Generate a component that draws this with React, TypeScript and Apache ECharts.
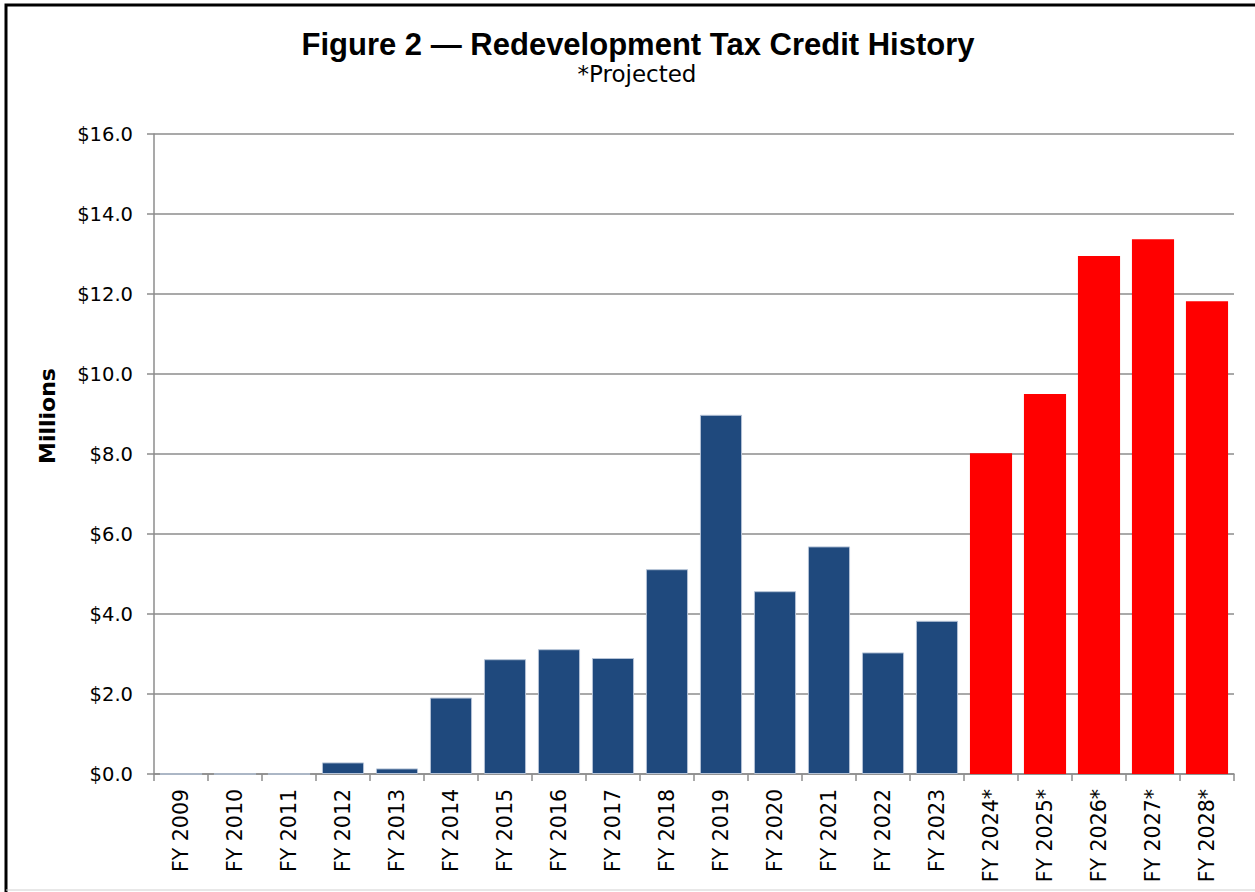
import React, { useEffect, useRef } from "react";
import * as echarts from "echarts";

const categories = [
  "FY 2009", "FY 2010", "FY 2011", "FY 2012", "FY 2013", "FY 2014", "FY 2015",
  "FY 2016", "FY 2017", "FY 2018", "FY 2019", "FY 2020", "FY 2021", "FY 2022",
  "FY 2023", "FY 2024*", "FY 2025*", "FY 2026*", "FY 2027*", "FY 2028*",
];
const actualValues = [0, 0, 0, 0.29, 0.14, 1.91, 2.87, 3.12, 2.9, 5.12, 8.98, 4.57, 5.69, 3.04, 3.83];
const projectedValues = [8.02, 9.5, 12.95, 13.37, 11.82];
const yTicks = [0, 2, 4, 6, 8, 10, 12, 14, 16];
const yAxisTitle = "Millions";

const FONT = "DejaVu Sans, Liberation Sans, Arial, sans-serif";
const ARIAL = "Liberation Sans, Arial, sans-serif";

export default function App() {
  const ref = useRef<HTMLDivElement>(null);
  useEffect(() => {
    if (!ref.current) return;
    const chart = echarts.init(ref.current, null, { renderer: "svg" });
    const data = [
      ...actualValues.map((v) => ({
        value: v,
        itemStyle: { color: "#1F497D", borderColor: "#B4C2D6", borderWidth: 1 },
      })),
      ...projectedValues.map((v) => ({
        value: v,
        itemStyle: { color: "#FF0000", borderWidth: 0 },
      })),
    ];
    chart.setOption({
      animation: false,
      backgroundColor: "#ffffff",
      textStyle: { fontFamily: FONT },
      title: [
        {
          text: "Figure 2 \u2014 Redevelopment Tax Credit History",
          left: 633,
          textAlign: "center",
          top: 24,
          textStyle: { fontSize: 31, fontWeight: "bold", color: "#000", fontFamily: ARIAL },
        },
        {
          text: "*Projected",
          left: 632,
          textAlign: "center",
          top: 57,
          textStyle: { fontSize: 23, fontWeight: "normal", color: "#000", fontFamily: FONT },
        },
      ],
      graphic: [
        {
          type: "rect",
          shape: { x: 6, y: 5, width: 1270, height: 910 },
          style: { fill: "none", stroke: "#000", lineWidth: 3 },
          silent: true,
        },
        {
          type: "line",
          shape: { x1: 6, y1: 890, x2: 1255, y2: 890 },
          style: { stroke: "#d0d0d0", lineWidth: 1 },
          silent: true,
        },
        {
          type: "text",
          x: 47,
          y: 416,
          rotation: Math.PI / 2,
          style: {
            text: yAxisTitle,
            fontSize: 22,
            fontWeight: "bold",
            fontFamily: FONT,
            fill: "#000",
            align: "center",
            verticalAlign: "middle",
          },
          silent: true,
        },
      ],
      grid: { left: 154, top: 134, width: 1080, height: 640, containLabel: false },
      xAxis: {
        type: "category",
        data: categories,
        axisLine: { lineStyle: { color: "#8c8c8c", width: 1.5 } },
        axisTick: { show: true, length: 7, alignWithLabel: false, lineStyle: { color: "#8c8c8c", width: 1.5 } },
        axisLabel: {
          rotate: 90,
          interval: 0,
          margin: 15,
          fontSize: 20.5,
          color: "#000",
          fontFamily: FONT,
        },
      },
      yAxis: {
        type: "value",
        min: 0,
        max: 16,
        interval: 2,
        axisLine: { show: true, lineStyle: { color: "#8c8c8c", width: 1.5 } },
        axisTick: { show: true, length: 7, lineStyle: { color: "#8c8c8c", width: 1.5 } },
        axisLabel: {
          margin: 21,
          fontSize: 19.5,
          color: "#000",
          fontFamily: FONT,
          formatter: (v: number) => (yTicks.includes(v) ? "$" + v.toFixed(1) : ""),
        },
        splitLine: { show: true, lineStyle: { color: "#8c8c8c", width: 1.5 } },
      },
      series: [
        {
          type: "bar",
          data,
          barCategoryGap: "22%",
        },
      ],
    });
    return () => chart.dispose();
  }, []);
  return (
    <div
      ref={ref}
      style={{ position: "absolute", left: 0, top: 0, width: 1255, height: 892 }}
    />
  );
}
